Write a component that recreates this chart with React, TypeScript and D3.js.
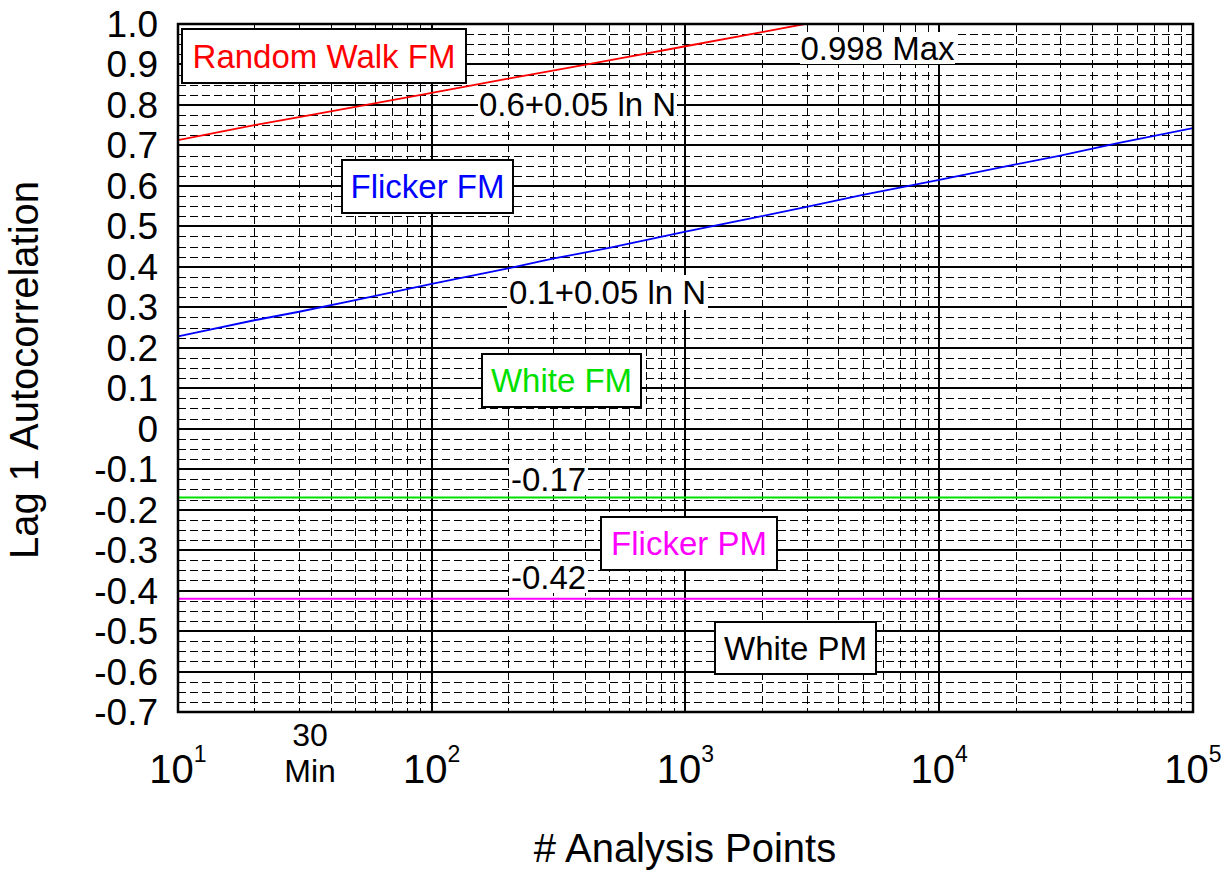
import React from "react";
import * as d3 from "d3";

const W = 1231;
const H = 871;

// Data
const randomWalkN = [10, 20, 30, 50, 100, 200, 300, 500, 1000, 2000, 2950];
const randomWalkR = [0.713, 0.75, 0.77, 0.795, 0.83, 0.865, 0.885, 0.91, 0.945, 0.98, 1.0];
const flickerFmN = [10, 20, 30, 50, 100, 200, 300, 500, 1000, 2000, 3000, 5000, 10000, 20000, 30000, 50000, 100000];
const flickerFmR = [0.228, 0.268, 0.289, 0.318, 0.358, 0.396, 0.42, 0.447, 0.487, 0.525, 0.548, 0.578, 0.615, 0.653, 0.675, 0.705, 0.743];
const whiteFmN = [10, 100000];
const whiteFmR = [-0.17, -0.17];
const flickerPmN = [10, 100000];
const flickerPmR = [-0.42, -0.42];

const yTickValues = [1.0, 0.9, 0.8, 0.7, 0.6, 0.5, 0.4, 0.3, 0.2, 0.1, 0, -0.1, -0.2, -0.3, -0.4, -0.5, -0.6, -0.7];
const yTickLabels = ["1.0", "0.9", "0.8", "0.7", "0.6", "0.5", "0.4", "0.3", "0.2", "0.1", "0", "-0.1", "-0.2", "-0.3", "-0.4", "-0.5", "-0.6", "-0.7"];
const xDecades = [10, 100, 1000, 10000, 100000];
const xExponents = ["1", "2", "3", "4", "5"];

const FONT = "'Liberation Sans', Arial, sans-serif";

export default function App() {
  const left = 178, right = 1193, top = 24, bottom = 712;
  const x = d3.scaleLog().domain([10, 100000]).range([left, right]);
  const y = d3.scaleLinear().domain([-0.7, 1.0]).range([bottom, top]);
  const px = (v: number) => Math.round(v) + 0.5;

  const minorX: number[] = [];
  xDecades.slice(0, 4).forEach((d) => {
    for (let k = 2; k <= 9; k++) minorX.push(d * k);
  });
  const minorY: number[] = d3.range(-28, 41).filter((i) => i % 4 !== 0).map((i) => i * 0.025);

  const line = d3
    .line<[number, number]>()
    .x((d) => x(d[0]))
    .y((d) => y(d[1]));
  const toPts = (ns: number[], rs: number[]) => ns.map((n, i) => [n, rs[i]] as [number, number]);

  const boxLabel = (
    text: string,
    color: string,
    bx: number,
    by: number,
    bw: number,
    bh: number,
    key: string
  ) => (
    <g key={key}>
      <rect x={bx} y={by} width={bw} height={bh} fill="#fff" stroke="#000" strokeWidth={2} />
      <text
        x={bx + bw / 2}
        y={by + bh / 2 + 11.5}
        textAnchor="middle"
        fontSize={33}
        fill={color}
        fontFamily={FONT}
      >
        {text}
      </text>
    </g>
  );

  const bgLabel = (text: string, bx: number, by: number, bw: number, bh: number, key: string) => (
    <g key={key}>
      <rect x={bx} y={by} width={bw} height={bh} fill="#fff" />
      <text
        x={bx + bw / 2}
        y={by + bh / 2 + 11.5}
        textAnchor="middle"
        fontSize={33}
        fill="#000"
        fontFamily={FONT}
      >
        {text}
      </text>
    </g>
  );

  return (
    <svg
      width={W}
      height={H}
      style={{ position: "absolute", left: 0, top: 0, background: "#fff" }}
      fontFamily={FONT}
    >
      <rect x={0} y={0} width={W} height={H} fill="#fff" />
      {/* minor grid */}
      <g stroke="#000" strokeWidth={1} strokeDasharray="8,4" shapeRendering="crispEdges">
        {minorY.map((v, i) => (
          <line key={"my" + i} x1={left} x2={right} y1={px(y(v))} y2={px(y(v))} />
        ))}
        {minorX.map((v, i) => (
          <line key={"mx" + i} x1={px(x(v))} x2={px(x(v))} y1={top} y2={bottom} />
        ))}
      </g>
      {/* major grid */}
      <g stroke="#000" strokeWidth={2} shapeRendering="crispEdges">
        {yTickValues.map((v, i) => (
          <line key={"gy" + i} x1={left} x2={right} y1={Math.round(y(v))} y2={Math.round(y(v))} />
        ))}
        {xDecades.map((v, i) => (
          <line key={"gx" + i} x1={Math.round(x(v))} x2={Math.round(x(v))} y1={top} y2={bottom} />
        ))}
      </g>

      {/* series */}
      <defs>
        <clipPath id="plotclip">
          <rect x={left} y={top} width={right - left} height={bottom - top} />
        </clipPath>
      </defs>
      <g clipPath="url(#plotclip)" fill="none">
        <path d={line(toPts(whiteFmN, whiteFmR)) || ""} stroke="#00e000" strokeWidth={2} />
        <path d={line(toPts(flickerPmN, flickerPmR)) || ""} stroke="#ff00ff" strokeWidth={2} />
        <path d={line(toPts(randomWalkN, randomWalkR)) || ""} stroke="#ff0000" strokeWidth={1.8} />
        <path d={line(toPts(flickerFmN, flickerFmR)) || ""} stroke="#0000ff" strokeWidth={1.8} />
      </g>

      {/* annotations */}
      {boxLabel("Random Walk FM", "#ff0000", 182, 29, 284, 54, "rw")}
      {bgLabel("0.6+0.05 ln N", 478, 88, 199, 33, "f1")}
      {bgLabel("0.998 Max", 800, 32, 155, 32, "mx")}
      {boxLabel("Flicker FM", "#0000ff", 342, 160, 171, 53, "ff")}
      {bgLabel("0.1+0.05 ln N", 507, 275, 201, 35, "f2")}
      {boxLabel("White FM", "#00e000", 482, 354, 159, 53, "wf")}
      {bgLabel("-0.17", 509, 463, 79, 32, "c1")}
      {boxLabel("Flicker PM", "#ff00ff", 601, 517, 176, 53, "fp")}
      {bgLabel("-0.42", 509, 561, 79, 32, "c2")}
      {boxLabel("White PM", "#000", 715, 622, 161, 52, "wp")}

      {/* frame */}
      <rect x={left} y={top} width={right - left} height={bottom - top} fill="none" stroke="#000" strokeWidth={2.5} />

      {/* y tick labels */}
      {yTickValues.map((v, i) => (
        <text key={"yl" + i} x={158} y={y(v) + 13} textAnchor="end" fontSize={37} fill="#000">
          {yTickLabels[i]}
        </text>
      ))}

      {/* x tick labels */}
      {xDecades.map((v, i) => (
        <text key={"xl" + i} x={x(v)} y={783} textAnchor="middle" fontSize={40} fill="#000">
          10
          <tspan fontSize={23} dy={-21}>
            {xExponents[i]}
          </tspan>
        </text>
      ))}
      <text x={310} y={746} textAnchor="middle" fontSize={32} fill="#000">30</text>
      <text x={310} y={782} textAnchor="middle" fontSize={32} fill="#000">Min</text>

      {/* axis titles */}
      <text x={685} y={862} textAnchor="middle" fontSize={40} fill="#000">
        # Analysis Points
      </text>
      <text
        transform={`translate(38,370) rotate(-90)`}
        textAnchor="middle"
        fontSize={40}
        fill="#000"
      >
        Lag 1 Autocorrelation
      </text>
    </svg>
  );
}
